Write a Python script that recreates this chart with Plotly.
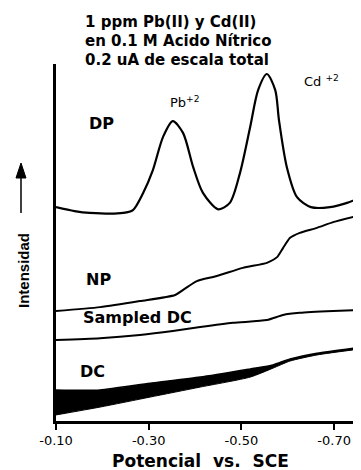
import plotly.graph_objects as go

# ---------------- data (potential in V vs SCE, intensity in relative units, 0-100 full scale)
dp_potential = [-0.100, -0.140, -0.173, -0.245, -0.266, -0.288, -0.309, -0.331, -0.352, -0.374,
                -0.396, -0.417, -0.450, -0.475, -0.497, -0.519, -0.536, -0.555, -0.573, -0.581,
                -0.598, -0.620, -0.650, -0.691, -0.728, -0.758]
dp_intensity = [59.9, 58.8, 58.3, 58.3, 59.1, 63.9, 70.3, 79.6, 84.0, 80.7,
                71.1, 63.9, 59.3, 61.1, 69.5, 82.4, 92.7, 97.2, 92.7, 84.3,
                71.1, 62.7, 59.9, 59.9, 61.1, 62.7]

np_potential = [-0.100, -0.195, -0.281, -0.357, -0.383, -0.404, -0.447, -0.503, -0.555, -0.577,
                -0.590, -0.605, -0.626, -0.663, -0.698, -0.758]
np_intensity = [30.8, 31.9, 33.6, 35.3, 37.5, 39.2, 40.6, 42.9, 44.3, 45.9,
                48.5, 51.3, 52.7, 54.1, 55.7, 57.7]

sdc_potential = [-0.100, -0.195, -0.281, -0.352, -0.411, -0.482, -0.555, -0.590, -0.626, -0.698, -0.758]
sdc_intensity = [22.7, 23.2, 24.1, 25.2, 26.3, 27.5, 28.3, 29.7, 30.3, 30.8, 31.1]

dc_potential = [-0.100, -0.195, -0.303, -0.411, -0.519, -0.568, -0.605, -0.663, -0.758]
dc_upper = [8.7, 8.7, 10.6, 12.3, 14.6, 15.7, 17.4, 19.0, 20.7]
dc_lower = [1.7, 3.9, 6.7, 9.5, 12.3, 14.8, 16.8, 18.5, 20.2]

tick_values = [-0.10, -0.30, -0.50, -0.70]
tick_labels = ["-0.10", "-0.30", "-0.50", "-0.70"]

title_lines = ["1 ppm Pb(II) y Cd(II)", "en 0.1 M Acido Nítrico", "0.2 uA de escala total"]

# ---------------- layout (the page has an 8px body margin, so the figure is drawn 8px smaller)
PAGE_OFF = 8
W, H = 361 - PAGE_OFF, 470 - PAGE_OFF
L, R, T, B = 56 - PAGE_OFF, 0, 64 - PAGE_OFF, 49
PW, PH = W - L - R, H - T - B


def px(x_page):
    return (x_page - PAGE_OFF - L) / PW


def py(y_page):
    return (H - B - (y_page - PAGE_OFF)) / PH


BOLD = "DejaVu Sans, Verdana, sans-serif"

fig = go.Figure()

# DC band (lower edge, then upper edge filled to it)
fig.add_trace(go.Scatter(x=dc_potential, y=dc_lower, mode="lines",
                         line=dict(color="black", width=1, shape="spline", smoothing=0.6),
                         hoverinfo="skip", showlegend=False))
fig.add_trace(go.Scatter(x=dc_potential, y=dc_upper, mode="lines", fill="tonexty",
                         fillcolor="black",
                         line=dict(color="black", width=1.5, shape="spline", smoothing=0.6),
                         showlegend=False, name="DC"))

fig.add_trace(go.Scatter(x=sdc_potential, y=sdc_intensity, mode="lines",
                         line=dict(color="black", width=2, shape="spline", smoothing=0.6),
                         showlegend=False, name="Sampled DC"))
fig.add_trace(go.Scatter(x=np_potential, y=np_intensity, mode="lines",
                         line=dict(color="black", width=2, shape="spline", smoothing=0.6),
                         showlegend=False, name="NP"))
fig.add_trace(go.Scatter(x=dp_potential, y=dp_intensity, mode="lines",
                         line=dict(color="black", width=2.2, shape="spline", smoothing=0.8),
                         showlegend=False, name="DP"))

annotations = []
for i, line in enumerate(title_lines):
    annotations.append(dict(text="<b>%s</b>" % line, x=px(83), y=py(22 + 19 * i),
                            xref="paper", yref="paper", xanchor="left", yanchor="middle",
                            showarrow=False, font=dict(family=BOLD, size=15, color="black")))

curve_labels = [("DP", 87, 124), ("NP", 84, 279), ("Sampled DC", 81, 317), ("DC", 78, 371)]
for txt, x0, y0 in curve_labels:
    annotations.append(dict(text="<b>%s</b>" % txt, x=px(x0), y=py(y0),
                            xref="paper", yref="paper", xanchor="left", yanchor="middle",
                            showarrow=False, font=dict(family=BOLD, size=16, color="black")))

annotations.append(dict(text="Pb<sup>+2</sup>", x=px(168), y=py(102), xref="paper", yref="paper",
                        xanchor="left", yanchor="middle", showarrow=False,
                        font=dict(family=BOLD, size=13, color="black")))
annotations.append(dict(text="Cd <sup>+2</sup>", x=px(302), y=py(81), xref="paper", yref="paper",
                        xanchor="left", yanchor="middle", showarrow=False,
                        font=dict(family=BOLD, size=13, color="black")))

annotations.append(dict(text="<b>Potencial  vs.  SCE</b>", x=px(200), y=py(461), xref="paper",
                        yref="paper", xanchor="center", yanchor="middle", showarrow=False,
                        font=dict(family=BOLD, size=17, color="black")))
annotations.append(dict(text="<b>Intensidad</b>", x=px(23), y=py(271), xref="paper", yref="paper",
                        xanchor="center", yanchor="middle", showarrow=False, textangle=-90,
                        font=dict(family="Liberation Sans, Arial, sans-serif", size=15, color="black")))

shapes = [
    dict(type="line", xref="paper", yref="paper", x0=px(21), x1=px(21), y0=py(213), y1=py(176),
         line=dict(color="black", width=1.5)),
    dict(type="path", xref="paper", yref="paper",
         path="M %f,%f L %f,%f L %f,%f Z" % (px(21), py(163), px(16), py(178), px(26), py(178)),
         fillcolor="black", line=dict(color="black", width=1)),
]

fig.update_layout(
    width=W, height=H,
    margin=dict(l=L, r=R, t=T, b=B, pad=0),
    paper_bgcolor="white", plot_bgcolor="white",
    showlegend=False,
    annotations=annotations,
    shapes=shapes,
    xaxis=dict(range=[-0.10, -0.758], showgrid=False, zeroline=False,
               showline=True, linecolor="black", linewidth=2.5,
               ticks="outside", ticklen=6, tickwidth=2, tickcolor="black",
               tickvals=tick_values, ticktext=tick_labels,
               tickfont=dict(family="DejaVu Sans, sans-serif", size=13, color="black")),
    yaxis=dict(range=[0, 100], showgrid=False, zeroline=False,
               showline=True, linecolor="black", linewidth=3,
               showticklabels=False, ticks=""),
)

fig.write_html("out.html")
